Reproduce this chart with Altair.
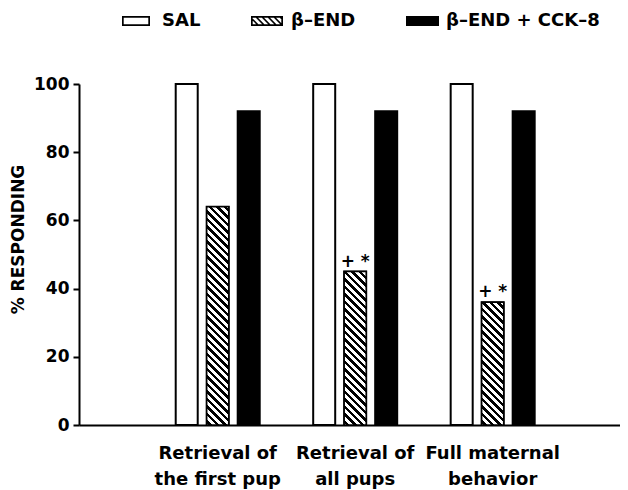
import altair as alt
import pandas as pd

# ---------------- data ----------------
categories = ["Retrieval of\nthe first pup", "Retrieval of\nall pups", "Full maternal\nbehavior"]
treatments = ["SAL", "β–END", "β–END + CCK–8"]
sal = [100, 100, 100]
bend = [64, 45, 36]
bend_cck = [92, 92, 92]
signif = ["", "+ *", "+ *"]

rows = []
for i, c in enumerate(categories):
    for t_i, (t, v) in enumerate(zip(treatments, [sal[i], bend[i], bend_cck[i]])):
        rows.append({"behavior": c, "bidx": i, "treatment": t, "tidx": t_i,
                     "pct": v, "mark": signif[i] if t_i == 1 else ""})
df = pd.DataFrame(rows)

# ---------------- layout / style ----------------
FONT = "DejaVu Sans"
W, H = 541, 341
X_PI, X_PO, X_ALIGN = 0.32, 0.6275, 0.533
O_PI, O_PO = 0.29, 0.153
step = W / (len(categories) - X_PI + 2 * X_PO)
band = step * (1 - X_PI)
ostep = band / (len(treatments) - O_PI + 2 * O_PO)
BAR_W = ostep * (1 - O_PI)

HATCH_P = 7.5      # px between stripes (vertical)
HATCH_B = 0.42     # black fraction


def hatch_gradient(value):
    w = BAR_W
    h = value * H / 100.0
    L = w + h
    s = L / (w * w + h * h)
    stops = [{"offset": 0, "color": "white"}]
    k = 0
    while k * HATCH_P < L:
        a = (k * HATCH_P + HATCH_P * 0.3) / L
        b = (k * HATCH_P + HATCH_P * (0.3 + HATCH_B)) / L
        if a >= 1:
            break
        b = min(b, 1)
        stops += [{"offset": a, "color": "white"}, {"offset": a, "color": "black"},
                  {"offset": b, "color": "black"}, {"offset": b, "color": "white"}]
        k += 1
    stops.append({"offset": 1, "color": "white"})
    return {"gradient": "linear", "x1": 0, "y1": 1, "x2": s * w, "y2": 1 - s * h,
            "stops": stops}


# ---------- legend symbol paths (filled shapes; unit = sqrt(size)/2 px) ----------
SLOT = 20.0
K = SLOT / 2
SYM_SIZE = SLOT * SLOT
HY = 5.0 / K          # half height (10 px tall symbols)
FR = 1.7 / K          # frame thickness


def poly(pts):
    return "M" + "L".join(f"{x:.3f},{y:.3f}" for x, y in pts) + "Z"


def clip(pts, x0, y0, x1, y1):
    def clip_edge(p, inside, inter):
        out = []
        for i in range(len(p)):
            a, b = p[i - 1], p[i]
            if inside(b):
                if not inside(a):
                    out.append(inter(a, b))
                out.append(b)
            elif inside(a):
                out.append(inter(a, b))
        return out

    def ix(xv):
        return lambda a, b: (xv, a[1] + (b[1] - a[1]) * (xv - a[0]) / (b[0] - a[0]))

    def iy(yv):
        return lambda a, b: (a[0] + (b[0] - a[0]) * (yv - a[1]) / (b[1] - a[1]), yv)

    p = pts
    for inside, inter in [(lambda q: q[0] >= x0, ix(x0)), (lambda q: q[0] <= x1, ix(x1)),
                          (lambda q: q[1] >= y0, iy(y0)), (lambda q: q[1] <= y1, iy(y1))]:
        if not p:
            break
        p = clip_edge(p, inside, inter)
    return p


def solid_path(wpx):
    x0, x1 = -1.0, -1.0 + wpx / K
    return poly([(x0, -HY), (x1, -HY), (x1, HY), (x0, HY)])


def frame_path(wpx):
    x0, x1 = -1.0, -1.0 + wpx / K
    outer = poly([(x0, -HY), (x1, -HY), (x1, HY), (x0, HY)])           # clockwise
    inner = poly([(x0 + FR, -HY + FR), (x0 + FR, HY - FR),
                  (x1 - FR, HY - FR), (x1 - FR, -HY + FR)])              # counter-clockwise
    return outer + inner


def hatch_path(wpx, period_px=6.0, thick_px=2.2):
    x0, x1 = -1.0, -1.0 + wpx / K
    p = frame_path(wpx)
    per, th = period_px / K, thick_px / K
    c = x0 - 2 * HY
    while c < x1 + HY:
        stripe = [(c - 2, -2), (c + th - 2, -2), (c + th + 2, 2), (c + 2, 2)]
        q = clip(stripe, x0 + FR * 0.5, -HY + FR * 0.5, x1 - FR * 0.5, HY - FR * 0.5)
        if len(q) >= 3:
            p += poly(q)
        c += per
    return p


shape_range = [frame_path(28), hatch_path(32), solid_path(33)]

# ---------------- encodings ----------------
x_enc = alt.X("behavior:N", sort=categories,
              scale=alt.Scale(domain=categories, paddingInner=X_PI,
                              paddingOuter=X_PO, align=X_ALIGN),
              axis=alt.Axis(title=None, ticks=False, labelAngle=0,
                            labelExpr="split(datum.label, '\\n')",
                            labelFont=FONT, labelFontSize=18, labelFontWeight="bold",
                            labelLineHeight=26, labelPadding=19, labelColor="black",
                            domainColor="black", domainWidth=2))
xo_enc = alt.XOffset("treatment:N", sort=treatments,
                     scale=alt.Scale(domain=treatments, paddingInner=O_PI, paddingOuter=O_PO))
y_enc = alt.Y("pct:Q", scale=alt.Scale(domain=[0, 100]),
              axis=alt.Axis(values=[0, 20, 40, 60, 80, 100], grid=False,
                            title="% RESPONDING", titleFont=FONT, titleFontSize=17,
                            titleFontWeight="bold", titleColor="black", titlePadding=6,
                            titleY=155,
                            labelFont=FONT, labelFontSize=17, labelFontWeight="bold",
                            labelColor="black", labelPadding=4,
                            tickSize=6, tickWidth=2, tickColor="black",
                            domainColor="black", domainWidth=2))

base = alt.Chart(df)

legend_kw = dict(title=None, orient="none", legendX=43, legendY=-73,
                 direction="horizontal", symbolSize=SYM_SIZE, symbolOpacity=1,
                 symbolStrokeWidth=0,
                 labelFont=FONT, labelFontSize=18, labelFontWeight="bold",
                 labelColor="black", labelOffset=20, columnPadding=50, padding=0)

# legend carrier: tiny points hidden underneath the bars
legend_pts = base.transform_calculate(mid="datum.pct / 2").mark_point(
    filled=True, size=1
).encode(
    x=x_enc, xOffset=xo_enc, y=alt.Y("mid:Q"),
    fill=alt.Fill("treatment:N", sort=treatments,
                  scale=alt.Scale(domain=treatments, range=["black", "black", "black"]),
                  legend=alt.Legend(**legend_kw)),
    shape=alt.Shape("treatment:N", sort=treatments,
                    scale=alt.Scale(domain=treatments, range=shape_range),
                    legend=alt.Legend(**legend_kw)),
)

bars = base.mark_bar(stroke="black", strokeWidth=2).encode(
    x=x_enc, xOffset=xo_enc, y=y_enc,
    color=alt.Color("treatment:N", scale=alt.Scale(domain=treatments,
                                                   range=["white", "white", "black"]),
                    legend=None),
)

hatched = []
for i in range(len(categories)):
    hatched.append(
        base.transform_filter(f"datum.tidx == 1 && datum.bidx == {i}")
        .mark_bar(fill=hatch_gradient(bend[i]), stroke="black", strokeWidth=1.5)
        .encode(x=x_enc, xOffset=xo_enc, y=y_enc)
    )

labels = base.transform_filter("datum.mark != ''").mark_text(
    dy=-10, font=FONT, fontSize=17, fontWeight="bold", color="black"
).encode(x=x_enc, xOffset=xo_enc, y=y_enc, text="mark:N")

chart = alt.layer(legend_pts, bars, *hatched, labels).properties(
    width=W, height=H,
    padding={"left": 71, "top": 76, "right": 0, "bottom": 74},
    autosize="none",
).configure_view(stroke=None)

chart.save("out.html", embed_options={"renderer": "svg", "actions": False})
